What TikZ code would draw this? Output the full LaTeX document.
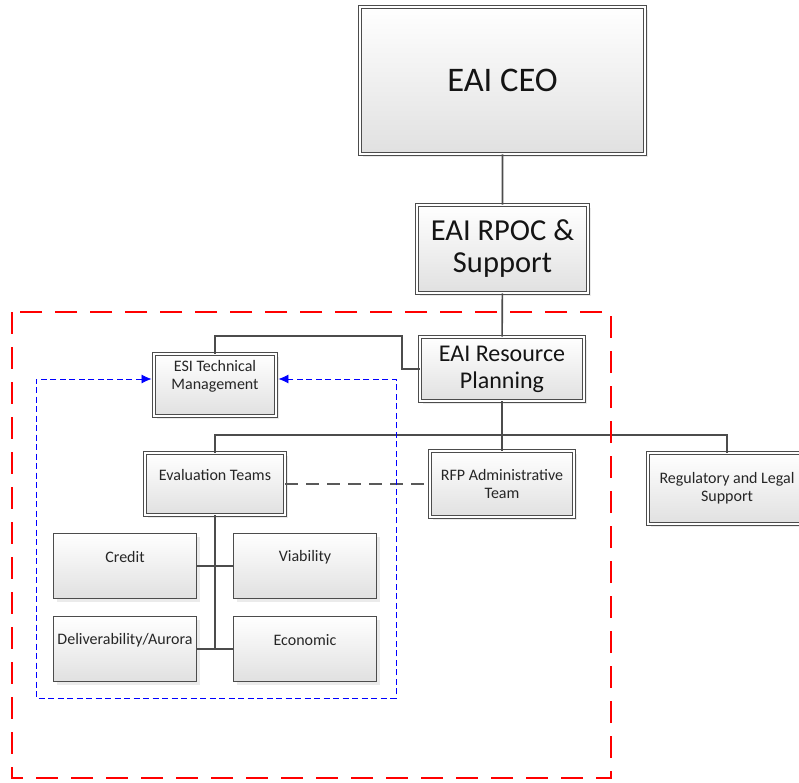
\documentclass[tikz,border=0pt]{standalone}
\usepackage{fontspec}
\setmainfont{Carlito}
\usetikzlibrary{arrows.meta,shadows}
\tikzset{
  box/.style={shape=rectangle, draw=black!70, line width=0.9pt, double=white, double distance=2pt, top color=white, bottom color=black!12, drop shadow={opacity=0.16, shadow xshift=3pt, shadow yshift=-3pt}, text=black!92, align=center, inner sep=0pt},
  teambox/.style={shape=rectangle, draw=black!70, line width=1pt, top color=white, bottom color=black!12, drop shadow={opacity=0.16, shadow xshift=3pt, shadow yshift=-3pt}, inner sep=0pt},
  link/.style={draw=black!70, line width=1.6pt},
  small/.style={font=\fontsize{16}{18}\selectfont}
}
\begin{document}
\begin{tikzpicture}[x=1pt, y=-1pt]
        \clip (0,0) rectangle (799,782);
        \node[box, minimum width=285, minimum height=147, font=\fontsize{34.5}{38}\selectfont] (CEO) at (502.5, 80.5) {EAI CEO};
        \node[box, minimum width=171, minimum height=88, font=\fontsize{30.5}{32}\selectfont] (RPOC) at (502.5, 249) {EAI RPOC \&\\Support};
        \node[box, minimum width=164, minimum height=64, font=\fontsize{24}{27}\selectfont] (RP) at (502, 369) {EAI Resource\\Planning};
        \node[box, minimum width=122, minimum height=62, label={[anchor=center, yshift=8.5pt, small, text=black!85, align=center]center:ESI Technical\\Management}] (ESI) at (215, 385) {};
        \node[box, minimum width=140, minimum height=62, label={[anchor=center, yshift=9pt, small, text=black!85]center:Evaluation Teams}] (ET) at (215, 484) {};
        \node[box, minimum width=144, minimum height=66, small, text=black!85] (RFP) at (502, 484) {RFP Administrative\\Team};
        \node[box, minimum width=158, minimum height=71, small, text=black!85] (RLS) at (727, 488.5) {Regulatory and Legal\\Support};
        \node[teambox, minimum width=143, minimum height=65, label={[anchor=center, yshift=9pt, small, text=black!85]center:Credit}] (T1) at (125, 566) {};
        \node[teambox, minimum width=143, minimum height=65, label={[anchor=center, yshift=9pt, small, text=black!85]center:Viability}] (T2) at (305, 566) {};
        \node[teambox, minimum width=143, minimum height=65, label={[anchor=center, yshift=9pt, small, text=black!85]center:Deliverability/Aurora}] (T3) at (125, 649) {};
        \node[teambox, minimum width=143, minimum height=65, label={[anchor=center, yshift=9pt, small, text=black!85]center:Economic}] (T4) at (305, 649) {};
        \coordinate (J1) at (402, 336);
        \coordinate (J2) at (502, 435);
        \coordinate (B1) at (36, 379);
        \coordinate (B2) at (36, 698);
        \coordinate (B3) at (396, 698);
        \coordinate (B4) at (396, 379);
        \draw[link] (CEO) to (RPOC) to (RP);
        \draw[link] (RP.west) -| (J1) -| (ESI.north);
        \draw[link] (RP.south) to (J2);
        \draw[link] (ET.north) |- (J2) -| (RLS.north);
        \draw[link] (RFP.north) to (RFP.north |- J2);
        \draw[link, line width=2.6pt] (ET.south) to ([yshift=-1pt]ET.south |- T3.east);
        \draw[link] (T1.east) to (T2.west);
        \draw[link] (T3.east) to (T4.west);
        \draw[draw=black!65, line width=1.4pt, dash pattern=on 13pt off 8pt] (ET.east) to (RFP.west);
        \draw[blue, line width=0.8pt, dash pattern=on 6pt off 3.5pt, {Latex[length=10pt,width=9pt]}-{Latex[length=10pt,width=9pt]}] ([xshift=-2pt]B1 -| ESI.west) -- (B1) -- (B2) -- (B3) -- (B4) -- ([xshift=2pt]B4 -| ESI.east);
        \draw[red, line width=2.8pt, dash pattern=on 22pt off 13pt] (12, 312) rectangle (611, 778);
    \end{tikzpicture}
\end{document}
